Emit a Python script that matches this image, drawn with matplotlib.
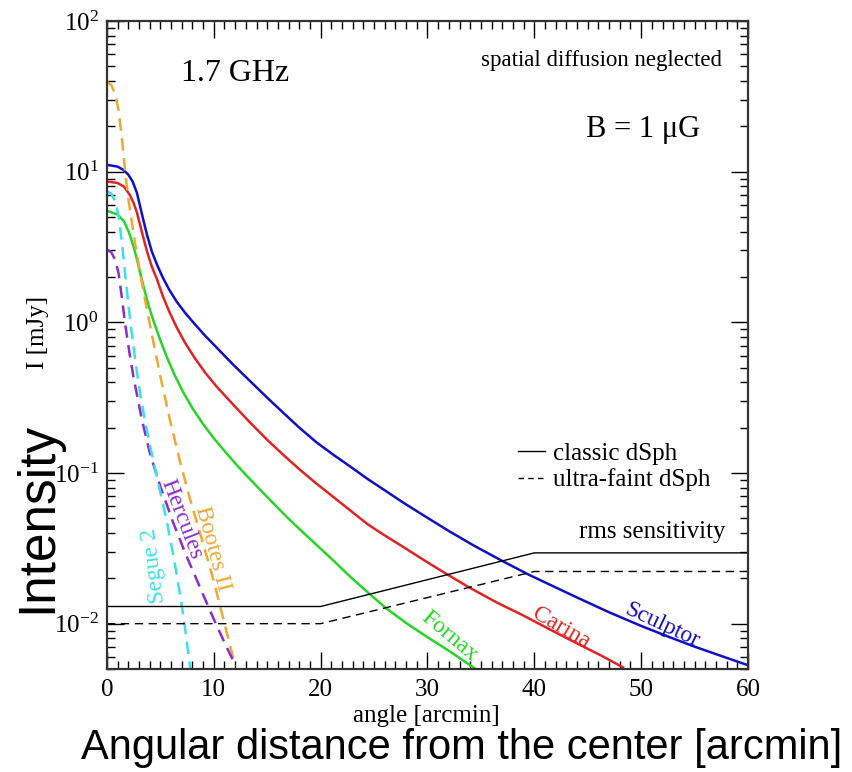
import matplotlib
matplotlib.use('Agg')
import matplotlib.pyplot as plt
from matplotlib.lines import Line2D
from matplotlib.ticker import MultipleLocator

plt.rcParams['font.family'] = ['Liberation Serif', 'DejaVu Serif']
plt.rcParams['mathtext.fontset'] = 'stix'

# classic dSph (solid lines), angle [arcmin] vs I [mJy]
sculptor_x = [0, 1, 1.6, 2.0, 2.4, 2.8, 3.1, 3.4, 3.75, 4.2, 4.7, 5.2, 5.8, 6.5, 7.3, 8.2,
              9.2, 10.3, 11.8, 13.4, 15, 16.5, 18, 19.6, 21.2, 22.8, 24.4, 25.9, 27.7, 29.6,
              32, 34.3, 36.9, 39.5, 42, 44.1, 47, 50, 52.5, 54.9, 57.5, 60]
sculptor_y = [11.1, 10.8, 10.2, 9.55, 8.61, 7.24, 5.89, 4.79, 3.80, 2.95, 2.40, 2.00, 1.66,
              1.38, 1.16, 0.977, 0.813, 0.676, 0.525, 0.407, 0.316, 0.251, 0.200, 0.160,
              0.132, 0.110, 0.0912, 0.0776, 0.0638, 0.0525, 0.0412, 0.0331, 0.0263, 0.0211,
              0.0174, 0.0148, 0.0119, 0.00966, 0.00822, 0.00708, 0.00610, 0.00530]
carina_x = [0, 1, 1.6, 2.1, 2.5, 2.8, 3.12, 3.45, 3.75, 4.2, 4.68, 5.2, 5.8, 6.5, 7.3, 8.2,
            9.2, 10.3, 11.8, 13.4, 15, 16.5, 18, 19.6, 21.2, 22.8, 24.4, 26, 27.7, 29.6,
            31.3, 33.9, 36.5, 38.9, 41.5, 44.1, 46.2, 48.3]
carina_y = [8.61, 8.41, 7.94, 7.08, 6.17, 5.37, 4.37, 3.55, 2.95, 2.34, 1.93, 1.51, 1.19,
            0.933, 0.733, 0.582, 0.462, 0.372, 0.285, 0.216, 0.166, 0.132, 0.106, 0.0851,
            0.0692, 0.0562, 0.0457, 0.0385, 0.0324, 0.0266, 0.0224, 0.0174, 0.0138, 0.0114,
            0.00912, 0.00733, 0.00617, 0.00513]
fornax_x = [0, 1, 1.6, 2.1, 2.5, 2.8, 3.1, 3.43, 3.9, 4.4, 5.0, 5.6, 6.3, 7.1, 8.0, 9.0,
            10.0, 11.0, 12.0, 13.1, 15, 16.8, 17.9, 19.5, 21.1, 22.8, 24.6, 26.1, 28, 30,
            32, 34.5]
fornax_y = [5.50, 5.19, 4.68, 3.89, 3.16, 2.63, 2.14, 1.72, 1.29, 1.0, 0.759, 0.589, 0.452,
            0.347, 0.269, 0.211, 0.170, 0.140, 0.116, 0.0955, 0.0692, 0.0513, 0.0432,
            0.0339, 0.0266, 0.0204, 0.0157, 0.0127, 0.0101, 0.00813, 0.00661, 0.00501]

# ultra-faint dSph (dashed lines)
bootes_x = [0, 0.4, 0.8, 1.1, 1.4, 1.7, 2.0, 2.34, 2.8, 3.43, 4.06, 5.0, 5.93, 6.87, 7.8,
            9.05, 10.0, 10.9, 12.0]
bootes_y = [39.6, 37.6, 32.4, 25.1, 16.6, 10.0, 6.61, 4.57, 2.82, 1.58, 0.933, 0.437, 0.219,
            0.117, 0.0661, 0.0331, 0.0191, 0.0107, 0.00525]
hercules_x = [0, 0.4, 0.8, 1.1, 1.4, 1.72, 2.1, 2.5, 3.28, 4.06, 5.0, 6.2, 7.46, 9.05, 10.0,
              11.0, 11.9]
hercules_y = [3.04, 2.92, 2.57, 2.09, 1.45, 0.955, 0.631, 0.427, 0.224, 0.132, 0.0813,
              0.0468, 0.0279, 0.0153, 0.0107, 0.0075, 0.0055]
segue_x = [0, 0.4, 0.8, 1.1, 1.4, 1.7, 2.0, 2.25, 2.7, 3.12, 3.6, 4.06, 5.0, 5.6, 6.3, 6.87,
           7.24, 7.8]
segue_y = [7.41, 7.16, 6.31, 5.01, 3.39, 2.09, 1.32, 0.933, 0.525, 0.331, 0.214, 0.148,
           0.0741, 0.0479, 0.0263, 0.0151, 0.0102, 0.00501]

# rms sensitivity
rms_x = [0, 20, 40, 60]
rms_classic = [0.013, 0.013, 0.0295, 0.0295]
rms_ultra = [0.01, 0.01, 0.0222, 0.0222]

fig = plt.figure(figsize=(8.53, 7.72), dpi=100)
ax = fig.add_axes([0.1254, 0.1334, 0.7515, 0.8394])

dash = (5, 3)
ax.plot(sculptor_x, sculptor_y, color='#1010c8', lw=1.8)
ax.plot(carina_x, carina_y, color='#e02424', lw=1.8)
ax.plot(fornax_x, fornax_y, color='#28d428', lw=1.8)
ax.plot(bootes_x, bootes_y, color='#eea835', lw=1.8, dashes=dash)
ax.plot(hercules_x, hercules_y, color='#8a2ed0', lw=1.8, dashes=dash)
ax.plot(segue_x, segue_y, color='#3ee0e8', lw=1.8, dashes=dash)
ax.plot(rms_x, rms_classic, color='black', lw=1.0)
ax.plot(rms_x, rms_ultra, color='black', lw=1.0, dashes=(6, 4))

ax.set_yscale('log')
ax.set_xlim(0, 60)
ax.set_ylim(5e-3, 1e2)
ax.xaxis.set_major_locator(MultipleLocator(10))
ax.xaxis.set_minor_locator(MultipleLocator(1))
ax.tick_params(which='both', direction='in', top=True, right=True, labelsize=18, width=1.0)
ax.tick_params(which='major', length=12)
ax.tick_params(which='minor', length=5.5)
ax.tick_params(axis='x', pad=7)
ax.tick_params(axis='y', pad=6)
for s in ax.spines.values():
    s.set_linewidth(1.6)
    s.set_color('#333333')

ax.set_xlabel('angle [arcmin]', fontsize=18)
ax.xaxis.set_label_coords(0.499, -0.055)
ax.set_ylabel('I [mJy]', fontsize=18)
ax.yaxis.set_label_coords(-0.09, 0.52)

ax.text(12.0, 45, '1.7 GHz', fontsize=23, ha='center', va='center')
ax.text(57.6, 55, 'spatial diffusion neglected', fontsize=16.5, ha='right', va='center')
ax.text(55.5, 19, 'B = 1 μG', fontsize=22, ha='right', va='center')
ax.text(57.9, 0.0407, 'rms sensitivity', fontsize=18, ha='right', va='center')

handles = [Line2D([], [], color='black', lw=1.0),
           Line2D([], [], color='black', lw=1.0, dashes=(4, 3))]
ax.legend(handles, ['classic dSph', 'ultra-faint dSph'], loc='upper left',
          bbox_to_anchor=(0.641, 0.35), frameon=False, fontsize=18,
          handlelength=1.1, handletextpad=0.3, labelspacing=0.15,
          borderpad=0, borderaxespad=0)

ax.text(52.0, 0.0098, 'Sculptor', color='#1010c8', fontsize=17, rotation=-25,
        ha='center', va='center', rotation_mode='anchor')
ax.text(42.5, 0.0094, 'Carina', color='#e02424', fontsize=17, rotation=-30,
        ha='center', va='center', rotation_mode='anchor')
ax.text(32.1, 0.0083, 'Fornax', color='#28d428', fontsize=17, rotation=-40,
        ha='center', va='center', rotation_mode='anchor')
ax.text(9.93, 0.0314, 'Bootes II', color='#eea835', fontsize=17, rotation=-75,
        ha='center', va='center', rotation_mode='anchor')
ax.text(7.02, 0.0495, 'Hercules', color='#8a2ed0', fontsize=17, rotation=-69,
        ha='center', va='center', rotation_mode='anchor')
ax.text(4.37, 0.0243, 'Segue 2', color='#3ee0e8', fontsize=17, rotation=97,
        ha='center', va='center', rotation_mode='anchor')

fig.text(0.0445, 0.330, 'Intensity', family='Liberation Sans', fontsize=37,
         rotation=90, ha='center', va='center')
fig.text(0.5416, 0.031, 'Angular distance from the center [arcmin]',
         family='Liberation Sans', fontsize=30, ha='center', va='center')

fig.savefig('out.png', dpi=100)
